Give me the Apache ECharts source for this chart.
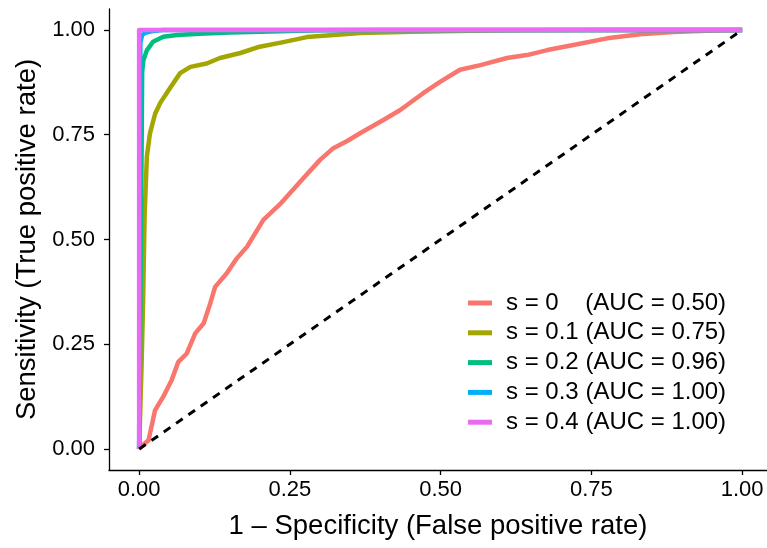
<!DOCTYPE html>
<html>
<head>
<meta charset="utf-8">
<script src="https://cdn.jsdelivr.net/npm/echarts@6/dist/echarts.min.js"></script>
<style>html,body{margin:0;padding:0;background:#fff}#c{width:767px;height:548px}</style>
</head>
<body>
<div id="c"></div>
<script>
var tickValues = [0, 0.25, 0.5, 0.75, 1];
var seriesNames = ['s = 0    (AUC = 0.50)', 's = 0.1 (AUC = 0.75)', 's = 0.2 (AUC = 0.96)', 's = 0.3 (AUC = 1.00)', 's = 0.4 (AUC = 1.00)'];
var seriesColors = ['#F8766D', '#A3A500', '#00BF7D', '#00B0F6', '#E76BF3'];

var fprS0 = [0, 0.005, 0.0155, 0.0265, 0.040, 0.054, 0.065, 0.079, 0.093, 0.107, 0.118, 0.126, 0.145, 0.162, 0.179, 0.206, 0.234, 0.267, 0.30, 0.322, 0.345, 0.367, 0.405, 0.433, 0.471, 0.499, 0.532, 0.566, 0.61, 0.643, 0.677, 0.72, 0.776, 0.831, 0.886, 0.94, 1];
var tprS0 = [0, 0.008, 0.021, 0.093, 0.125, 0.165, 0.208, 0.228, 0.276, 0.30, 0.348, 0.387, 0.419, 0.455, 0.483, 0.547, 0.585, 0.638, 0.69, 0.718, 0.735, 0.754, 0.785, 0.809, 0.849, 0.876, 0.905, 0.916, 0.933, 0.94, 0.952, 0.964, 0.98, 0.99, 0.995, 0.998, 1];

var fprS1 = [0, 0.002, 0.004, 0.0066, 0.009, 0.0128, 0.018, 0.0265, 0.035, 0.051, 0.068, 0.085, 0.112, 0.134, 0.168, 0.2, 0.239, 0.278, 0.322, 0.367, 0.45, 0.55, 0.65, 0.8, 1];
var tprS1 = [0, 0.1, 0.2, 0.356, 0.554, 0.698, 0.754, 0.80, 0.826, 0.861, 0.897, 0.912, 0.92, 0.933, 0.945, 0.96, 0.971, 0.983, 0.988, 0.993, 0.996, 0.998, 0.999, 1, 1];

var fprS2 = [0, 0.003, 0.005, 0.007, 0.013, 0.023, 0.04, 0.063, 0.1, 0.15, 0.2, 0.3, 0.4, 1];
var tprS2 = [0, 0.5, 0.9, 0.928, 0.952, 0.972, 0.984, 0.988, 0.991, 0.994, 0.996, 0.999, 1, 1];

var fprS3 = [0, 0.002, 0.005, 0.01, 0.02, 0.04, 1];
var tprS3 = [0, 0.97, 0.988, 0.993, 0.997, 1, 1];

var fprS4 = [0, 0, 1];
var tprS4 = [0, 1, 1];

var diagX = [0, 1];
var diagY = [0, 1];

function pairs(xs, ys) { return xs.map(function (x, i) { return [x, ys[i]]; }); }

var allFpr = [fprS0, fprS1, fprS2, fprS3, fprS4];
var allTpr = [tprS0, tprS1, tprS2, tprS3, tprS4];

var FONT = "'Liberation Sans', Arial, Helvetica, sans-serif";
var series = seriesNames.map(function (name, i) {
  return {
    name: name, type: 'line', data: pairs(allFpr[i], allTpr[i]),
    showSymbol: false, symbol: 'none', smooth: false,
    lineStyle: { color: seriesColors[i], width: 4.5, join: 'round' },
    itemStyle: { color: seriesColors[i] },
    emphasis: { disabled: true }
  };
});
series.push({
  name: 'diag', type: 'line', data: pairs(diagX, diagY), showSymbol: false, symbol: 'none',
  lineStyle: { color: '#000', width: 3, type: [8, 7] }, emphasis: { disabled: true }
});

var chart = echarts.init(document.getElementById('c'));
chart.setOption({
  animation: false,
  backgroundColor: '#fff',
  grid: { left: 109, right: 0, top: 9, bottom: 78, containLabel: false },
  legend: {
    data: seriesNames, orient: 'vertical', left: 468, top: 291, padding: 0,
    icon: 'rect', itemWidth: 24, itemHeight: 5, itemGap: 5.8,
    textStyle: { fontFamily: FONT, fontSize: 24, color: '#000', lineHeight: 24, padding: [0, 0, 0, 9] }
  },
  xAxis: {
    type: 'value', min: -0.05, max: 1.0412,
    name: '1 \u2013 Specificity (False positive rate)', nameLocation: 'middle', nameGap: 42,
    nameTextStyle: { fontFamily: FONT, fontSize: 27.5, color: '#000' },
    axisLine: { show: true, onZero: false, lineStyle: { color: '#000', width: 1.3 } },
    axisTick: { show: true, customValues: tickValues, length: 5, lineStyle: { color: '#000', width: 1.3 } },
    axisLabel: { customValues: tickValues, margin: 9, fontFamily: FONT, fontSize: 22, color: '#000',
      formatter: function (v) { return v.toFixed(2); } },
    splitLine: { show: false }
  },
  yAxis: {
    type: 'value', min: -0.05, max: 1.05,
    name: 'Sensitivity (True positive rate)', nameLocation: 'middle', nameGap: 62,
    nameTextStyle: { fontFamily: FONT, fontSize: 27.5, color: '#000' },
    axisLine: { show: true, onZero: false, lineStyle: { color: '#000', width: 1.3 } },
    axisTick: { show: true, customValues: tickValues, length: 5, lineStyle: { color: '#000', width: 1.3 } },
    axisLabel: { customValues: tickValues, margin: 14, fontFamily: FONT, fontSize: 22, color: '#000',
      formatter: function (v) { return v.toFixed(2); } },
    splitLine: { show: false }
  },
  series: series
});
</script>
</body>
</html>
